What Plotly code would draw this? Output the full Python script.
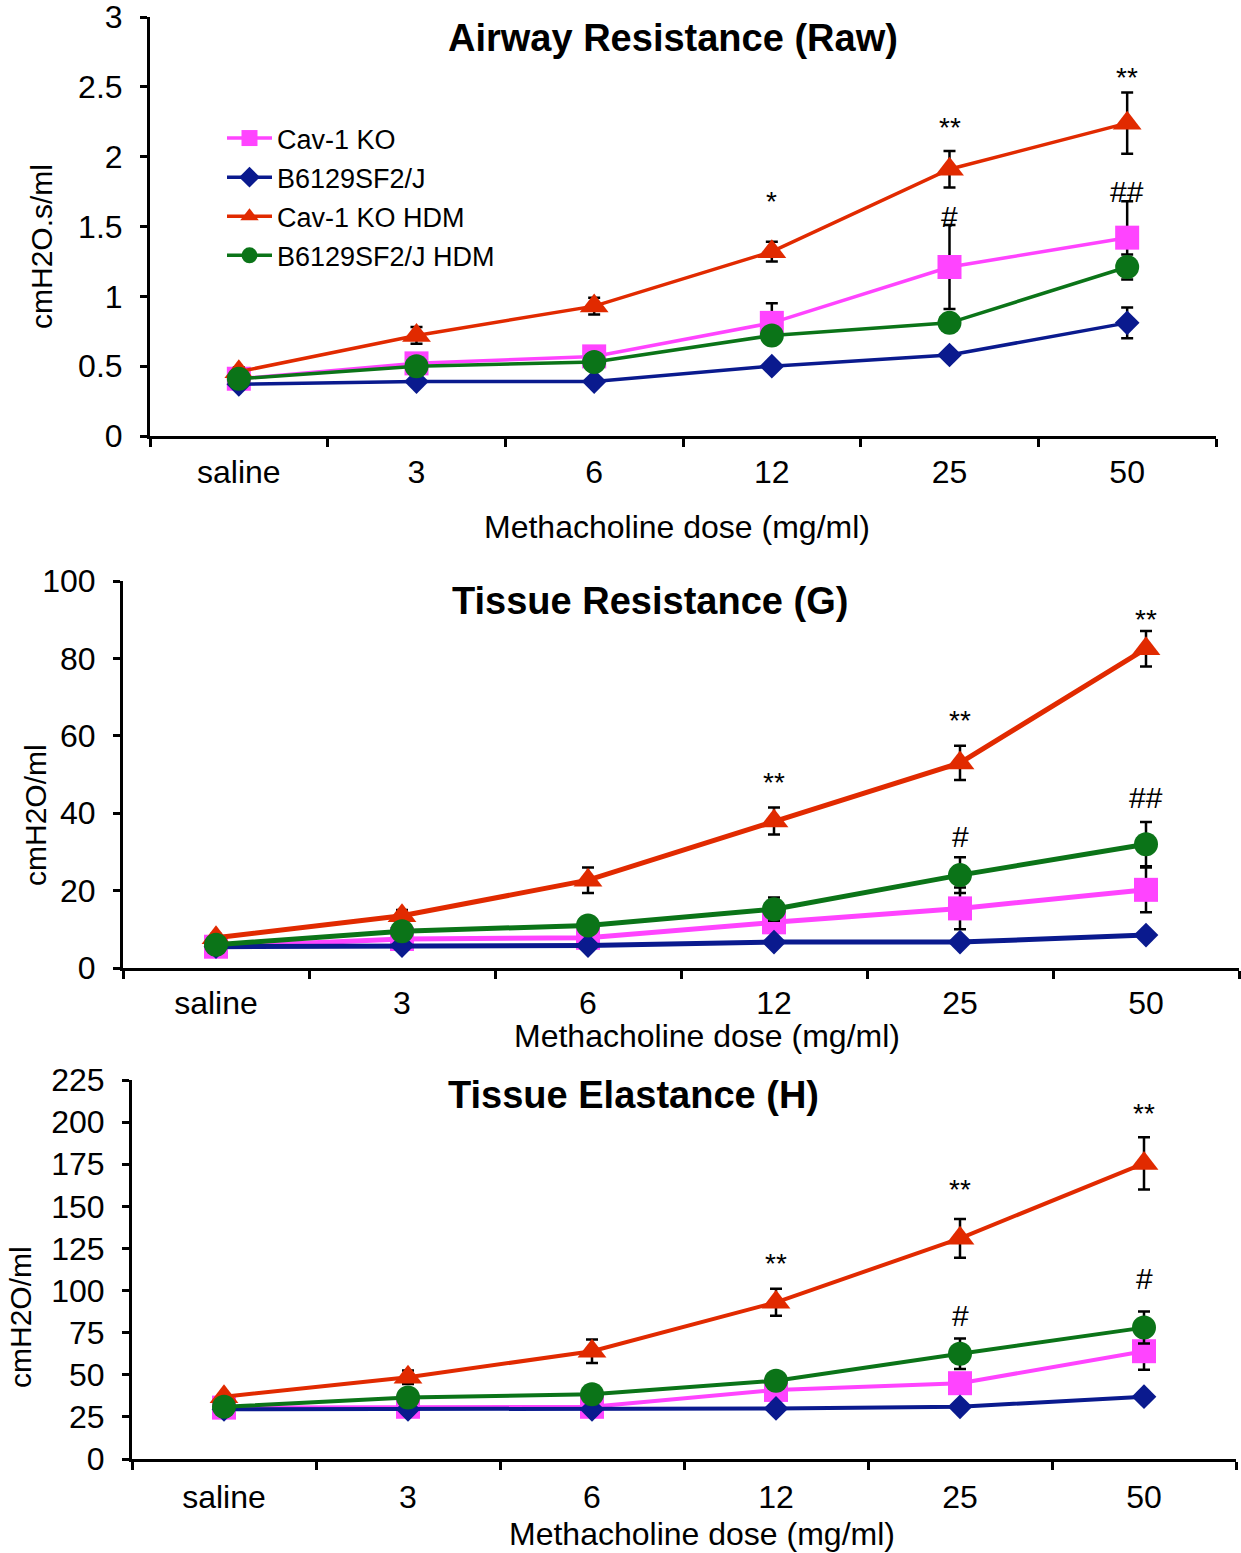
import plotly.graph_objects as go

W, H = 1241, 1553

doses = ["saline", "3", "6", "12", "25", "50"]
series_names = ["Cav-1 KO", "B6129SF2/J", "Cav-1 KO HDM", "B6129SF2/J HDM"]

# Panel 1: Airway Resistance (Raw)
raw_cav_ko = [0.41, 0.52, 0.57, 0.81, 1.21, 1.42]
raw_b6 = [0.37, 0.39, 0.39, 0.50, 0.58, 0.81]
raw_cav_hdm = [0.46, 0.72, 0.93, 1.32, 1.91, 2.24]
raw_b6_hdm = [0.41, 0.50, 0.53, 0.72, 0.81, 1.21]
raw_err_cav_ko = [0.03, 0.04, 0.04, 0.14, 0.30, 0.26]
raw_err_b6 = [0.02, 0.02, 0.02, 0.03, 0.03, 0.11]
raw_err_cav_hdm = [0.03, 0.06, 0.06, 0.07, 0.13, 0.22]
raw_err_b6_hdm = [0.02, 0.03, 0.03, 0.05, 0.05, 0.09]

# Panel 2: Tissue Resistance (G)
g_cav_ko = [5.5, 7.5, 7.8, 11.8, 15.4, 20.2]
g_b6 = [5.5, 5.8, 5.8, 6.7, 6.7, 8.5]
g_cav_hdm = [7.8, 13.5, 22.7, 38.0, 53.0, 82.5]
g_b6_hdm = [6.0, 9.5, 11.0, 15.2, 24.0, 32.0]
g_err_cav_ko = [0.5, 0.8, 0.8, 2.0, 5.4, 5.8]
g_err_b6 = [0.3, 0.3, 0.3, 0.5, 0.5, 0.8]
g_err_cav_hdm = [1.0, 1.5, 3.3, 3.5, 4.4, 4.6]
g_err_b6_hdm = [0.8, 1.2, 1.5, 3.0, 4.6, 5.7]

# Panel 3: Tissue Elastance (H)
h_cav_ko = [30.5, 31.0, 31.0, 41.0, 45.0, 64.0]
h_b6 = [29.5, 29.5, 29.5, 30.0, 31.0, 37.0]
h_cav_hdm = [37.0, 48.5, 64.0, 93.0, 131.0, 175.5]
h_b6_hdm = [31.0, 36.5, 38.5, 46.5, 62.5, 78.0]
h_err_cav_ko = [1.0, 1.0, 1.0, 3.0, 4.0, 11.0]
h_err_b6 = [0.5, 0.5, 0.5, 0.8, 1.0, 2.0]
h_err_cav_hdm = [2.0, 4.0, 7.0, 8.0, 11.5, 15.5]
h_err_b6_hdm = [1.5, 2.0, 2.0, 3.0, 9.0, 9.5]

# significance marks: (dose, y value, text)
sig_raw = [("12", 1.68, "*"), ("25", 2.21, "**"), ("25", 1.57, "#"), ("50", 2.57, "**"), ("50", 1.75, "##")]
sig_g = [("12", 48.0, "**"), ("25", 64.0, "**"), ("25", 34.0, "#"), ("50", 90.0, "**"), ("50", 44.0, "##")]
sig_h = [("12", 116.0, "**"), ("25", 160.0, "**"), ("25", 85.0, "#"), ("50", 205.0, "**"), ("50", 107.0, "#")]

colors = ["#FF44FF", "#0A1A8E", "#E12A00", "#0B7418"]
symbols = ["square", "diamond", "triangle-up", "circle"]
msizes = [24, 19, 25, 24]
FONT = "Liberation Sans, Arial, sans-serif"

def px_x(x):
    return x / W

def px_y(y):
    return 1 - y / H

panels = [
    dict(vals=[raw_cav_ko, raw_b6, raw_cav_hdm, raw_b6_hdm],
         errs=[raw_err_cav_ko, raw_err_b6, raw_err_cav_hdm, raw_err_b6_hdm],
         sig=sig_raw, xdom=(150, 1216), ydom=(17, 436), yrange=(0, 3), dtick=0.5,
         title="Airway Resistance (Raw)", tx=673, ty=38,
         ytitle="cmH2O.s/ml", ytx=42, yty=247,
         xtitle_x=677, xtitle_y=527, lw=3.5, standoff=6),
    dict(vals=[g_cav_ko, g_b6, g_cav_hdm, g_b6_hdm],
         errs=[g_err_cav_ko, g_err_b6, g_err_cav_hdm, g_err_b6_hdm],
         sig=sig_g, xdom=(123, 1239), ydom=(581, 968), yrange=(0, 100), dtick=20,
         title="Tissue Resistance (G)", tx=650, ty=601,
         ytitle="cmH2O/ml", ytx=35, yty=815,
         xtitle_x=707, xtitle_y=1036, lw=5, standoff=5),
    dict(vals=[h_cav_ko, h_b6, h_cav_hdm, h_b6_hdm],
         errs=[h_err_cav_ko, h_err_b6, h_err_cav_hdm, h_err_b6_hdm],
         sig=sig_h, xdom=(132, 1236), ydom=(1080, 1459), yrange=(0, 225), dtick=25,
         title="Tissue Elastance (H)", tx=633, ty=1095,
         ytitle="cmH2O/ml", ytx=20, yty=1317,
         xtitle_x=702, xtitle_y=1534, lw=4, standoff=8),
]

fig = go.Figure()
annotations = []
layout = {}

for pi, p in enumerate(panels):
    n = "" if pi == 0 else str(pi + 1)
    xa, ya = "x" + n, "y" + n
    for si in range(4):
        fig.add_trace(go.Scatter(
            x=doses, y=p["vals"][si], xaxis=xa, yaxis=ya,
            mode="lines+markers", name=series_names[si],
            legendgroup=series_names[si], showlegend=(pi == 0),
            line=dict(color=colors[si], width=p["lw"]),
            marker=dict(symbol=symbols[si], size=msizes[si], color=colors[si], line=dict(width=0)),
            error_y=dict(type="data", array=p["errs"][si], color="black", thickness=2.5, width=6),
        ))
    layout["xaxis" + n] = dict(
        domain=[px_x(p["xdom"][0]), px_x(p["xdom"][1])], anchor=ya, type="category",
        categoryorder="array", categoryarray=doses, range=[-0.5, 5.5], automargin=False,
        tickson="boundaries", ticks="outside", ticklen=8, tickwidth=2.5, tickcolor="black",
        showline=True, linecolor="black", linewidth=3, showgrid=False, zeroline=False,
        tickfont=dict(family=FONT, size=32, color="black"), ticklabelstandoff=p["standoff"],
        ticklabeloverflow="allow",
    )
    layout["yaxis" + n] = dict(
        domain=[px_y(p["ydom"][1]), px_y(p["ydom"][0])], anchor=xa, automargin=False,
        range=list(p["yrange"]), dtick=p["dtick"], tick0=0,
        ticks="outside", ticklen=7, tickwidth=2.5, tickcolor="black",
        showline=True, linecolor="black", linewidth=3, showgrid=False, zeroline=False,
        tickfont=dict(family=FONT, size=32, color="black"), ticklabelstandoff=11,
        ticklabeloverflow="allow",
    )
    annotations.append(dict(text="<b>%s</b>" % p["title"], xref="paper", yref="paper",
                            x=px_x(p["tx"]), y=px_y(p["ty"]), xanchor="center", yanchor="middle",
                            showarrow=False, font=dict(family=FONT, size=38, color="black")))
    annotations.append(dict(text="Methacholine dose (mg/ml)", xref="paper", yref="paper",
                            x=px_x(p["xtitle_x"]), y=px_y(p["xtitle_y"]), xanchor="center", yanchor="middle",
                            showarrow=False, font=dict(family=FONT, size=32, color="black")))
    annotations.append(dict(text=p["ytitle"], xref="paper", yref="paper", textangle=-90,
                            x=px_x(p["ytx"]), y=px_y(p["yty"]), xanchor="center", yanchor="middle",
                            showarrow=False, font=dict(family=FONT, size=30, color="black")))
    for dose, yv, txt in p["sig"]:
        annotations.append(dict(text=txt, xref=xa, yref=ya, x=doses.index(dose), y=yv,
                                xanchor="center", yanchor="middle", showarrow=False,
                                font=dict(family=FONT, size=28 if "*" in txt else 30, color="black")))

fig.update_layout(
    width=W, height=H, margin=dict(l=0, r=0, t=0, b=0, autoexpand=False),
    paper_bgcolor="white", plot_bgcolor="white",
    showlegend=True,
    legend=dict(x=px_x(222), y=px_y(114), xanchor="left", yanchor="top",
                font=dict(family=FONT, size=27, color="black"), bgcolor="rgba(0,0,0,0)",
                traceorder="grouped", tracegroupgap=1, itemsizing="trace", itemwidth=45),
    annotations=annotations,
    **layout,
)

fig.write_html("out.html")
